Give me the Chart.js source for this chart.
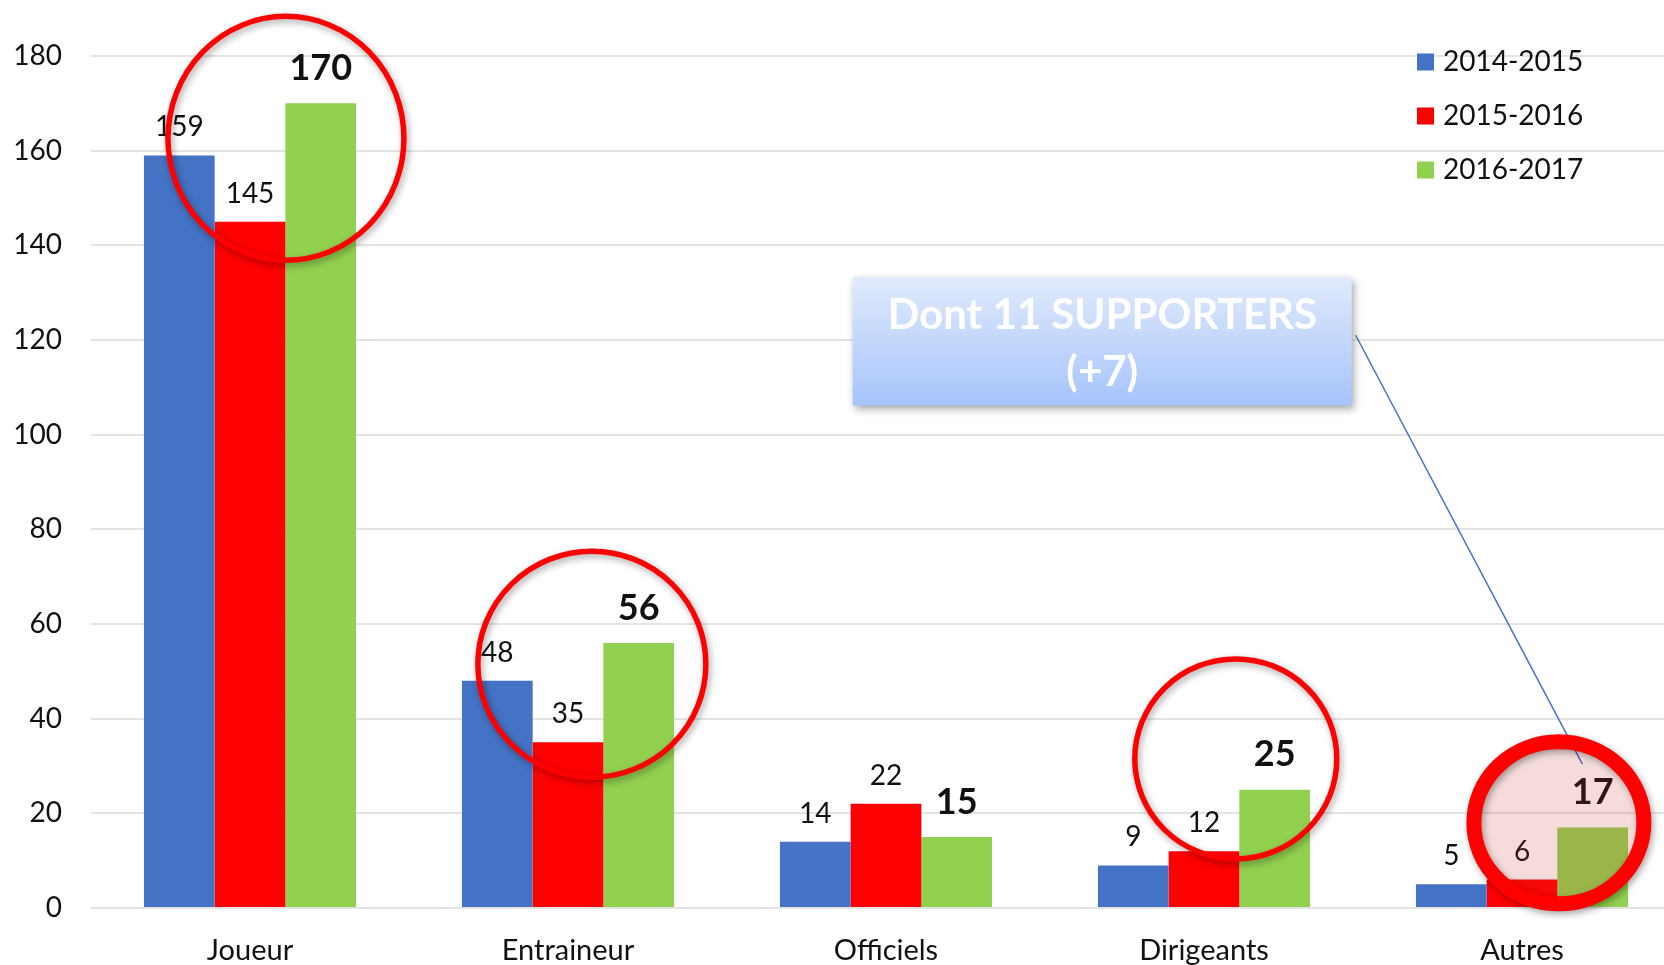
<!DOCTYPE html>
<html>
<head>
<meta charset="utf-8">
<script src="https://cdn.jsdelivr.net/npm/chart.js@4/dist/chart.umd.min.js"></script>
<style>
  html, body { margin: 0; padding: 0; background: #fff; overflow: hidden; }
  #wrap { width: 1700px; height: 1000px; }
</style>
</head>
<body>
<div id="wrap"><canvas id="chart" width="1700" height="1000"></canvas></div>
<script>
// Data
const categories = ["Joueur", "Entraineur", "Officiels", "Dirigeants", "Autres"];
const seasons = ["2014-2015", "2015-2016", "2016-2017"];
const values1415 = [159, 48, 14, 9, 5];
const values1516 = [145, 35, 22, 12, 6];
const values1617 = [170, 56, 15, 25, 17];
const yMin = 0, yMax = 180, yStep = 20;

const colors = ["#4472c4", "#ff0000", "#92d050"];
const FONT = "Lato, 'Open Sans', sans-serif";

// red circles drawn around some groups (centre given in category / value units)
const highlights = [
  { cat: 0, dx: 0.113, value: 162.6, rx: 118, ry: 122, width: 5.5 },
  { cat: 1, dx: 0.075, value: 51.5, rx: 114, ry: 113, width: 5.5 },
  { cat: 3, dx: 0.1, value: 31.5, rx: 101, ry: 100, width: 5.5 },
  { cat: 4, dx: 0.116, value: 18, rx: 85, ry: 81, width: 15, fill: "rgba(196,45,35,0.17)" }
];

// callout box + leader line
const callout = {
  lines: ["Dont 11 SUPPORTERS", "(+7)"],
  cat: 2.68, value: 119.7, w: 499, h: 128,
  lineFrom: { cat: 3.477, value: 121 },
  lineTo: { cat: 4.19, value: 30.4 }
};

const overlay = {
  id: "overlay",
  afterDatasetsDraw(chart) {
    const ctx = chart.ctx;
    const xs = chart.scales.x, ys = chart.scales.y;

    // 1. value labels
    chart.data.datasets.forEach((ds, di) => {
      const bold = di === 2;
      chart.getDatasetMeta(di).data.forEach((bar, i) => {
        ctx.save();
        ctx.font = (bold ? "bold 36px " : "28px ") + FONT;
        ctx.fillStyle = "#111";
        ctx.textAlign = "center";
        ctx.textBaseline = "middle";
        ctx.fillText(ds.data[i], bar.x, bar.y - (bold ? 35 : 28));
        ctx.restore();
      });
    });

    // 2. leader line
    ctx.save();
    ctx.strokeStyle = "#4472c4";
    ctx.lineWidth = 1.5;
    ctx.beginPath();
    ctx.moveTo(xs.getPixelForValue(callout.lineFrom.cat), ys.getPixelForValue(callout.lineFrom.value));
    ctx.lineTo(xs.getPixelForValue(callout.lineTo.cat), ys.getPixelForValue(callout.lineTo.value));
    ctx.stroke();
    ctx.restore();

    // 3. circles
    highlights.forEach(h => {
      const cx = xs.getPixelForValue(h.cat + h.dx);
      const cy = ys.getPixelForValue(h.value);
      if (h.fill) {
        ctx.save();
        ctx.beginPath();
        ctx.ellipse(cx, cy, h.rx, h.ry, 0, 0, Math.PI * 2);
        ctx.fillStyle = h.fill;
        ctx.fill();
        ctx.restore();
      }
      ctx.save();
      ctx.shadowColor = "rgba(0,0,0,0.35)";
      ctx.shadowBlur = 7;
      ctx.shadowOffsetX = 2;
      ctx.shadowOffsetY = 3;
      ctx.beginPath();
      ctx.ellipse(cx, cy, h.rx, h.ry, 0, 0, Math.PI * 2);
      ctx.strokeStyle = "#ff0000";
      ctx.lineWidth = h.width;
      ctx.stroke();
      ctx.restore();
    });

    // 4. callout box
    const bx = xs.getPixelForValue(callout.cat) - callout.w / 2;
    const by = ys.getPixelForValue(callout.value) - callout.h / 2;
    ctx.save();
    const g = ctx.createLinearGradient(0, by, 0, by + callout.h);
    g.addColorStop(0, "#e0eafc");
    g.addColorStop(1, "#a6c4fb");
    ctx.shadowColor = "rgba(0,0,0,0.35)";
    ctx.shadowBlur = 8;
    ctx.shadowOffsetX = 2;
    ctx.shadowOffsetY = 4;
    ctx.fillStyle = g;
    ctx.fillRect(bx, by, callout.w, callout.h);
    ctx.restore();
    ctx.save();
    ctx.fillStyle = "#ffffff";
    ctx.font = "bold 42px " + FONT;
    ctx.textAlign = "center";
    ctx.textBaseline = "middle";
    callout.lines.forEach((t, i) => {
      ctx.fillText(t, bx + callout.w / 2, by + 38 + i * 57);
    });
    ctx.restore();

    // 5. legend
    ctx.save();
    ctx.font = "28px " + FONT;
    ctx.textBaseline = "middle";
    chart.data.datasets.forEach((ds, i) => {
      const y = 62 + i * 54;
      ctx.fillStyle = ds.backgroundColor;
      ctx.fillRect(1417, y - 8.5, 17, 17);
      ctx.fillStyle = "#111";
      ctx.fillText(ds.label, 1443, y);
    });
    ctx.restore();
  }
};

new Chart(document.getElementById("chart").getContext("2d"), {
  type: "bar",
  data: {
    labels: categories,
    datasets: [
      { label: seasons[0], data: values1415, backgroundColor: colors[0] },
      { label: seasons[1], data: values1516, backgroundColor: colors[1] },
      { label: seasons[2], data: values1617, backgroundColor: colors[2] }
    ].map(d => Object.assign(d, { categoryPercentage: 0.667, barPercentage: 1.0, borderWidth: 0 }))
  },
  options: {
    responsive: false,
    animation: false,
    devicePixelRatio: 1,
    layout: { padding: { top: 56, right: 19, left: 0, bottom: 0 } },
    plugins: { legend: { display: false }, tooltip: { enabled: false } },
    scales: {
      x: {
        grid: { display: false, drawTicks: false },
        border: { display: false },
        ticks: { color: "#111", font: { family: FONT, size: 29 }, padding: 25 },
        afterFit: s => { s.height = 92; }
      },
      y: {
        min: yMin, max: yMax,
        ticks: { stepSize: yStep, color: "#111", font: { family: FONT, size: 28 }, padding: 29 },
        grid: { color: "#e4e4e4", lineWidth: 2, drawTicks: false },
        border: { display: false },
        afterFit: s => { s.width = 91; }
      }
    }
  },
  plugins: [overlay]
});
</script>
</body>
</html>
